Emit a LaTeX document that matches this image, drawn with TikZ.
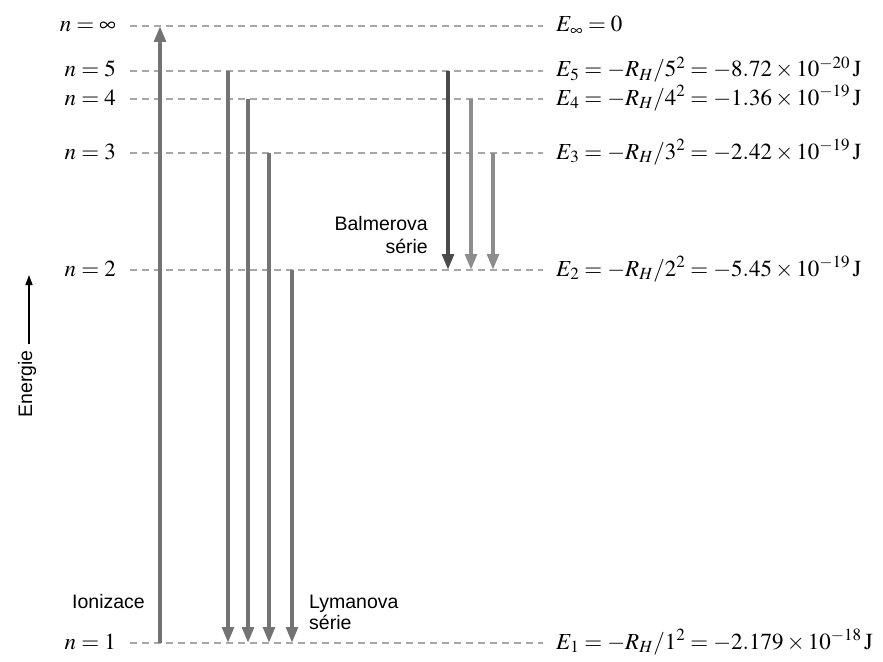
\documentclass[tikz,border=0pt]{standalone}
\usepackage{mathptmx}
\usepackage[no-math]{fontspec}
\setmainfont{Liberation Serif}
\setsansfont{Liberation Sans}
\usetikzlibrary{arrows.meta}
\definecolor{dashgray}{HTML}{A8A8A8}
\definecolor{arrgray}{HTML}{737373}
\definecolor{arrdark}{HTML}{4A4A4A}
\definecolor{arrlight}{HTML}{8C8C8C}
\tikzset{
  levelline/.style={draw=dashgray, line width=1.2pt, dash pattern=on 7pt off 5pt},
  nlab/.style={anchor=base east, inner sep=0pt, font=\fontsize{23}{26}\selectfont},
  elab/.style={anchor=base west, inner sep=0pt, font=\fontsize{23}{26}\selectfont},
  trans/.style={line width=4pt, draw=arrgray, -{Triangle[width=11.5pt,length=16pt]}},
  sanstext/.style={inner sep=0pt, font=\sffamily\fontsize{19.5}{22}\selectfont},
}
\begin{document}
\begin{tikzpicture}[x=1pt,y=-1pt]
\useasboundingbox (0,0) rectangle (883,661);
% level coordinates
\foreach \nm/\yy in {inf/26, 5/71, 4/99, 3/153, 2/270, 1/643}{
  \coordinate (L\nm) at (130,\yy);
  \coordinate (R\nm) at (543,\yy);
  \draw[levelline] (L\nm) -- (R\nm);
}
% left labels
\node[nlab] (ninf) at (116,32) {$n = \infty$};
\node[nlab] (n5) at (116,77) {$n = 5$};
\node[nlab] (n4) at (116,105) {$n = 4$};
\node[nlab] (n3) at (116,159) {$n = 3$};
\node[nlab] (n2) at (116,276) {$n = 2$};
\node[nlab] (n1) at (116,649) {$n = 1$};
% right labels
\node[elab] (einf) at (556,32) {$E_\infty = 0$};
\node[elab] (e5) at (556,77) {$E_5 = -R_H/5^2 = -8.72 \times 10^{-20}\,\mathrm{J}$};
\node[elab] (e4) at (556,105) {$E_4 = -R_H/4^2 = -1.36 \times 10^{-19}\,\mathrm{J}$};
\node[elab] (e3) at (556,159) {$E_3 = -R_H/3^2 = -2.42 \times 10^{-19}\,\mathrm{J}$};
\node[elab] (e2) at (556,276) {$E_2 = -R_H/2^2 = -5.45 \times 10^{-19}\,\mathrm{J}$};
\node[elab] (e1) at (556,649) {$E_1 = -R_H/1^2 = -2.179 \times 10^{-18}\,\mathrm{J}$};
% transition coordinates
\coordinate (ion1) at (160,643); \coordinate (ioninf) at (160,26);
\coordinate (ly5) at (228,71); \coordinate (ly5e) at (228,643);
\coordinate (ly4) at (248,99); \coordinate (ly4e) at (248,643);
\coordinate (ly3) at (269,153); \coordinate (ly3e) at (269,643);
\coordinate (ly2) at (292,270); \coordinate (ly2e) at (292,643);
\coordinate (ba5) at (448,71); \coordinate (ba5e) at (448,270);
\coordinate (ba4) at (471,99); \coordinate (ba4e) at (471,270);
\coordinate (ba3) at (493,153); \coordinate (ba3e) at (493,270);
% arrows
\draw[trans] (ion1) -- (ioninf);
\draw[trans] (ly5) -- (ly5e);
\draw[trans] (ly4) -- (ly4e);
\draw[trans] (ly3) -- (ly3e);
\draw[trans] (ly2) -- (ly2e);
\draw[trans, draw=arrdark] (ba5) -- (ba5e);
\draw[trans, draw=arrlight] (ba4) -- (ba4e);
\draw[trans, draw=arrlight] (ba3) -- (ba3e);
% texts
\node[sanstext, anchor=base west] (ion) at (72,608) {Ionizace};
\node[sanstext, anchor=base west] (lyA) at (309,608) {Lymanova};
\node[sanstext, anchor=base west] (lyB) at (309,629) {série};
\node[sanstext, anchor=base east] (baA) at (428,230) {Balmerova};
\node[sanstext, anchor=base east] (baB) at (428,253) {série};
% energy axis
\node[sanstext, rotate=90] (en) at (27,384) {Energie};
\coordinate (ea) at (29,344);
\coordinate (eb) at (29,275);
\draw[line width=1.4pt, -{Triangle[width=7pt,length=10pt]}] (ea) -- (eb);
\end{tikzpicture}
\end{document}
